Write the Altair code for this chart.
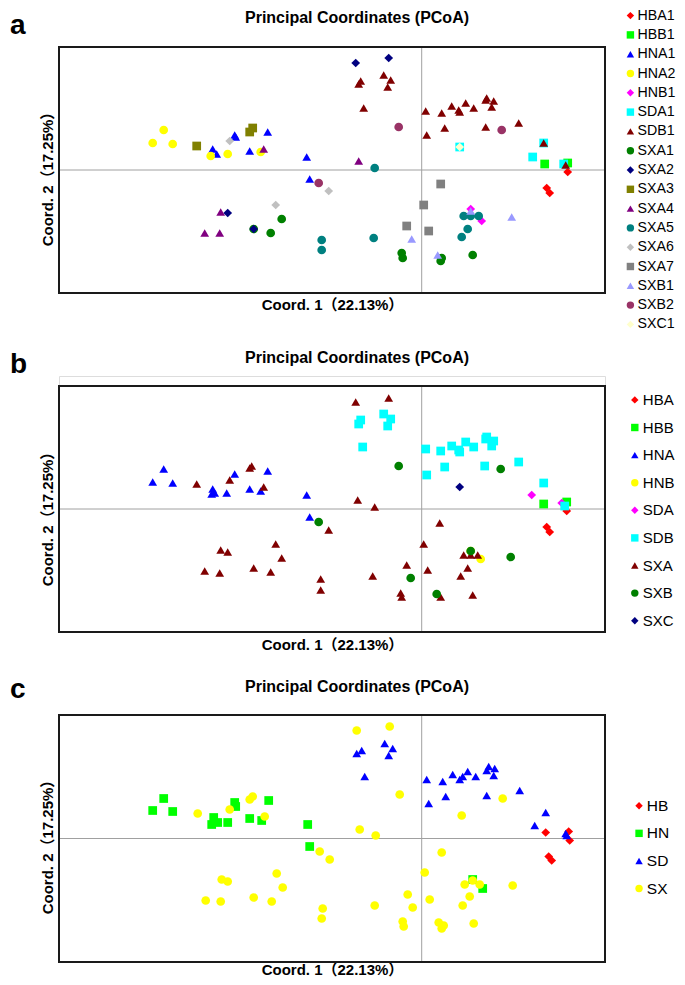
import altair as alt
import pandas as pd

# ---------------- data: (Coord. 1, Coord. 2) ----------------
# Panel a
a_HBA1 = [(0.146, -0.002), (0.125, -0.018), (0.128, -0.023)]
a_HBB1 = [(0.123, 0.006), (0.146, 0.007)]
a_HNA1 = [(-0.209, 0.021), (-0.205, 0.016), (-0.187, 0.035), (-0.186, 0.033), (-0.172, 0.019),
          (-0.154, 0.038), (-0.115, 0.013), (-0.112, -0.009)]
a_HNA2 = [(-0.269, 0.027), (-0.258, 0.040), (-0.249, 0.026), (-0.211, 0.014), (-0.194, 0.016),
          (-0.161, 0.018)]
a_HNB1 = [(0.049, -0.039), (0.060, -0.051)]
a_SDA1 = [(0.122, 0.027), (0.111, 0.013), (0.142, 0.006), (0.038, 0.023)]
a_SDB1 = [(-0.063, 0.086), (-0.061, 0.089), (-0.038, 0.095), (-0.031, 0.090), (-0.034, 0.083),
          (-0.058, 0.062), (0.004, 0.059), (0.020, 0.057), (0.030, 0.064), (0.037, 0.060),
          (0.038, 0.058), (0.044, 0.067), (0.052, 0.062), (0.064, 0.070), (0.065, 0.072),
          (0.072, 0.069), (0.070, 0.063), (0.097, 0.047), (0.064, 0.043), (0.023, 0.042),
          (0.005, 0.035), (0.122, 0.027), (0.144, 0.005)]
a_SXA1 = [(-0.140, -0.049), (-0.151, -0.063), (-0.168, -0.059), (-0.020, -0.083), (-0.019, -0.088),
          (0.020, -0.088), (0.019, -0.091), (0.051, -0.085)]
a_SXA2 = [(-0.194, -0.043), (-0.168, -0.059), (-0.066, 0.107), (-0.033, 0.112)]
a_SXA3 = [(-0.225, 0.024), (-0.172, 0.038), (-0.169, 0.042)]
a_SXA4 = [(-0.158, 0.021), (-0.201, -0.042), (-0.217, -0.063), (-0.202, -0.063), (-0.063, 0.009)]
a_SXA5 = [(-0.100, -0.070), (-0.100, -0.080), (-0.047, 0.002), (-0.048, -0.068), (0.042, -0.046),
          (0.049, -0.046), (0.057, -0.046), (0.046, -0.059), (0.040, -0.067)]
a_SXA6 = [(-0.192, 0.029), (-0.093, -0.021), (-0.146, -0.035)]
a_SXA7 = [(0.019, -0.014), (0.002, -0.035), (-0.015, -0.056), (0.007, -0.061)]
a_SXB1 = [(-0.010, -0.069), (0.016, -0.085), (0.049, -0.041), (0.090, -0.047)]
a_SXB2 = [(-0.103, -0.013), (-0.023, 0.043), (0.080, 0.040)]
a_SXC1 = [(0.038, 0.023)]

A_NAMES = ["HBA1", "HBB1", "HNA1", "HNA2", "HNB1", "SDA1", "SDB1", "SXA1", "SXA2",
           "SXA3", "SXA4", "SXA5", "SXA6", "SXA7", "SXB1", "SXB2", "SXC1"]
A_POINTS = [a_HBA1, a_HBB1, a_HNA1, a_HNA2, a_HNB1, a_SDA1, a_SDB1, a_SXA1, a_SXA2,
            a_SXA3, a_SXA4, a_SXA5, a_SXA6, a_SXA7, a_SXB1, a_SXB2, a_SXC1]

# Panel b
b_HBA = [(0.145, -0.002), (0.125, -0.018), (0.128, -0.023)]
b_HBB = [(0.122, 0.005), (0.145, 0.007)]
b_HNA = [(-0.269, 0.027), (-0.258, 0.040), (-0.249, 0.026), (-0.209, 0.020), (-0.210, 0.015),
         (-0.207, 0.016), (-0.195, 0.016), (-0.187, 0.035), (-0.172, 0.020), (-0.161, 0.018),
         (-0.154, 0.038), (-0.115, 0.014), (-0.112, -0.008)]
b_HNB = [(0.059, -0.050), (0.049, -0.042)]
b_SDA = [(0.110, 0.014), (0.140, 0.006)]
b_SDB = [(-0.063, 0.085), (-0.061, 0.089), (-0.038, 0.095), (-0.031, 0.090), (-0.034, 0.083),
         (-0.059, 0.062), (0.004, 0.060), (0.019, 0.058), (0.030, 0.063), (0.037, 0.059),
         (0.038, 0.057), (0.044, 0.067), (0.052, 0.062), (0.064, 0.070), (0.065, 0.072),
         (0.072, 0.068), (0.070, 0.063), (0.097, 0.047), (0.063, 0.043), (0.023, 0.042),
         (0.005, 0.034), (0.122, 0.026), (0.143, 0.003)]
b_SXA = [(-0.225, 0.025), (-0.172, 0.041), (-0.170, 0.043), (-0.192, 0.029), (-0.158, 0.022),
         (-0.201, -0.041), (-0.194, -0.043), (-0.217, -0.062), (-0.202, -0.064), (-0.168, -0.059),
         (-0.151, -0.063), (-0.146, -0.035), (-0.140, -0.049), (-0.093, -0.021), (-0.101, -0.070),
         (-0.101, -0.081), (-0.066, 0.107), (-0.033, 0.111), (-0.064, 0.009), (-0.047, 0.002),
         (0.018, -0.014), (0.002, -0.035), (-0.015, -0.056), (0.006, -0.061), (-0.049, -0.067),
         (-0.021, -0.084), (-0.020, -0.088), (0.019, -0.088), (0.051, -0.086), (0.042, -0.046),
         (0.049, -0.046), (0.056, -0.046), (0.046, -0.059), (0.039, -0.067)]
b_SXB = [(-0.103, -0.013), (-0.023, 0.043), (0.079, 0.040), (0.049, -0.042), (0.089, -0.048),
         (-0.011, -0.069), (0.015, -0.085)]
b_SXC = [(0.038, 0.022)]

B_NAMES = ["HBA", "HBB", "HNA", "HNB", "SDA", "SDB", "SXA", "SXB", "SXC"]
B_POINTS = [b_HBA, b_HBB, b_HNA, b_HNB, b_SDA, b_SDB, b_SXA, b_SXB, b_SXC]

# Panel c
c_HB = [(0.124, 0.006), (0.147, 0.007), (0.148, -0.002), (0.127, -0.018), (0.130, -0.022)]
c_HN = [(-0.269, 0.028), (-0.258, 0.040), (-0.249, 0.027), (-0.208, 0.021), (-0.210, 0.014),
        (-0.204, 0.016), (-0.194, 0.016), (-0.187, 0.036), (-0.186, 0.032), (-0.172, 0.020),
        (-0.160, 0.018), (-0.153, 0.038), (-0.114, 0.014), (-0.112, -0.008), (0.051, -0.041),
        (0.061, -0.050)]
c_SD = [(-0.065, 0.085), (-0.060, 0.088), (-0.037, 0.095), (-0.029, 0.090), (-0.033, 0.083),
        (-0.057, 0.062), (0.005, 0.059), (0.021, 0.057), (0.031, 0.064), (0.038, 0.059),
        (0.041, 0.062), (0.046, 0.067), (0.054, 0.062), (0.065, 0.068), (0.067, 0.072),
        (0.073, 0.070), (0.072, 0.063), (0.098, 0.048), (0.065, 0.043), (0.024, 0.042),
        (0.007, 0.035), (0.124, 0.026), (0.113, 0.013), (0.144, 0.005), (0.145, 0.003)]
c_SX = [(-0.224, 0.025), (-0.192, 0.029), (-0.172, 0.039), (-0.169, 0.042), (-0.157, 0.022),
        (-0.102, -0.013), (-0.092, -0.021), (-0.200, -0.041), (-0.194, -0.043), (-0.145, -0.035),
        (-0.139, -0.049), (-0.216, -0.062), (-0.201, -0.063), (-0.168, -0.059), (-0.150, -0.063),
        (-0.099, -0.070), (-0.100, -0.080), (-0.065, 0.108), (-0.032, 0.112), (-0.022, 0.044),
        (0.081, 0.040), (0.040, 0.023), (-0.062, 0.009), (-0.046, 0.003), (0.020, -0.014),
        (0.003, -0.034), (-0.014, -0.056), (0.008, -0.061), (-0.047, -0.067), (-0.009, -0.069),
        (-0.019, -0.083), (-0.018, -0.088), (0.017, -0.084), (0.022, -0.087), (0.020, -0.090),
        (0.052, -0.085), (0.041, -0.067), (0.048, -0.058), (0.043, -0.046), (0.051, -0.042),
        (0.058, -0.046), (0.091, -0.047)]

C_NAMES = ["HB", "HN", "SD", "SX"]
C_POINTS = [c_HB, c_HN, c_SD, c_SX]

TITLE = "Principal Coordinates (PCoA)"
X_TITLE = "Coord. 1（22.13%）"
Y_TITLE = "Coord. 2（17.25%）"

# ---------------- styles ----------------
A_COLORS = ["#FF0000", "#00FF00", "#0000FF", "#FFFF00", "#FF00FF", "#00FFFF", "#800000", "#008000",
            "#000080", "#808000", "#800080", "#008080", "#C0C0C0", "#808080", "#9999FF", "#993366",
            "#FFFFCC"]
B_COLORS = ["#FF0000", "#00FF00", "#0000FF", "#FFFF00", "#FF00FF", "#00FFFF", "#800000", "#008000",
            "#000080"]
C_COLORS = ["#FF0000", "#00FF00", "#0000FF", "#FFFF00"]
SHAPE_CYCLE = ["diamond", "square", "triangle-up", "circle"]

FONT = "Liberation Sans, Arial, Noto Sans CJK SC, sans-serif"
X_DOMAIN = [-0.3627, 0.1833]
PLOT_W = 546


def panel(letter, names, points, colors, y_frame, frame_h, extra_top, leg, text_y, letter_y,
          ytitle_y, xtitle_pad):
    rows = []
    for name, pts in zip(names, points):
        for x, y in pts:
            rows.append({"group": name, "c1": x, "c2": y})
    df = pd.DataFrame(rows)
    shapes = [SHAPE_CYCLE[i % 4] for i in range(len(names))]
    px_per_unit = frame_h / (y_frame[1] - y_frame[0])
    y_domain = [y_frame[0], y_frame[1] + extra_top / px_per_unit]

    xs = alt.Scale(domain=X_DOMAIN, nice=False, zero=False)
    ys = alt.Scale(domain=y_domain, nice=False, zero=False)
    xaxis = alt.Axis(title=X_TITLE, labels=False, ticks=False, domain=False, grid=False,
                     titleFont=FONT, titleFontSize=15, titleFontWeight="bold", titleColor="black",
                     titlePadding=xtitle_pad)
    yaxis = alt.Axis(title=Y_TITLE, labels=False, ticks=False, domain=False, grid=False,
                     titleFont=FONT, titleFontSize=15, titleFontWeight="bold", titleColor="black",
                     titlePadding=4, titleY=ytitle_y)

    legend = alt.Legend(title=None, orient="none", legendX=leg[0], legendY=leg[1],
                        labelFont=FONT, labelFontSize=leg[4], labelColor="black",
                        symbolSize=55, symbolStrokeWidth=0, symbolOpacity=1,
                        rowPadding=leg[2], labelOffset=leg[3], padding=0)

    one = pd.DataFrame({"k": [0]})

    vline = alt.Chart(one).mark_rule(color="#a0a0a0", strokeWidth=1).encode(
        x=alt.X(datum=0, scale=xs, axis=xaxis),
        y=alt.Y(datum=y_frame[0], scale=ys, axis=yaxis),
        y2=alt.datum(y_frame[1]))
    hline = alt.Chart(one).mark_rule(color="#a0a0a0", strokeWidth=1).encode(
        x=alt.X(datum=X_DOMAIN[0], scale=xs, axis=xaxis),
        x2=alt.datum(X_DOMAIN[1]),
        y=alt.Y(datum=0, scale=ys, axis=yaxis))
    pts = alt.Chart(df).mark_point(filled=True, size=76, opacity=1, strokeWidth=0).encode(
        x=alt.X("c1:Q", scale=xs, axis=xaxis),
        y=alt.Y("c2:Q", scale=ys, axis=yaxis),
        color=alt.Color("group:N", scale=alt.Scale(domain=names, range=colors), legend=legend),
        shape=alt.Shape("group:N", scale=alt.Scale(domain=names, range=shapes), legend=legend))
    frame = alt.Chart(one).mark_rect(fillOpacity=0, stroke="#1a1a1a", strokeWidth=2).encode(
        x=alt.X(datum=X_DOMAIN[0], scale=xs, axis=xaxis),
        x2=alt.datum(X_DOMAIN[1]),
        y=alt.Y(datum=y_frame[0], scale=ys, axis=yaxis),
        y2=alt.datum(y_frame[1]))
    title = alt.Chart(one).mark_text(text=TITLE, font=FONT, fontSize=16, fontWeight="bold",
                                     color="black", align="center", baseline="alphabetic").encode(
        x=alt.value(298), y=alt.value(text_y))
    lab = alt.Chart(one).mark_text(text=letter, font=FONT, fontSize=28, fontWeight="bold",
                                   color="black", align="left", baseline="alphabetic").encode(
        x=alt.value(-49), y=alt.value(letter_y))
    return alt.layer(vline, hline, pts, frame, title, lab).properties(
        width=PLOT_W, height=frame_h + extra_top)


# legend tuple: (legendX, legendY, rowPadding, labelOffset, labelFontSize)
pa = panel("a", A_NAMES, A_POINTS, A_COLORS, [-0.123, 0.123], 246, 0,
           (564.3, -38.5, 4.3, 0, 14.2), -23.7, -13, 128, 4)
pb = panel("b", B_NAMES, B_POINTS, B_COLORS, [-0.123, 0.123], 246, 10,
           (568.3, 16.4, 11.6, 0.5, 15.0), -12.7, -3, 139, 5)
pc = panel("c", C_NAMES, C_POINTS, C_COLORS, [-0.1235, 0.1235], 247, 0,
           (572.3, 83, 10.6, 0, 15.5), -23.3, -16.7, 128, 0)

# the view's own width signal is the column width (546); padding makes the page 669 x 969
chart = alt.vconcat(
    pa, pb, pc, spacing=83, bounds="flush",
    autosize=alt.AutoSizeParams(type="none"),
    padding={"left": 51, "top": 39, "right": 72, "bottom": 930},
).resolve_scale(
    x="independent", y="independent", color="independent", shape="independent"
).configure_view(strokeWidth=0).configure(background="white")

chart.save("out.html", embed_options={"renderer": "svg", "actions": False})
